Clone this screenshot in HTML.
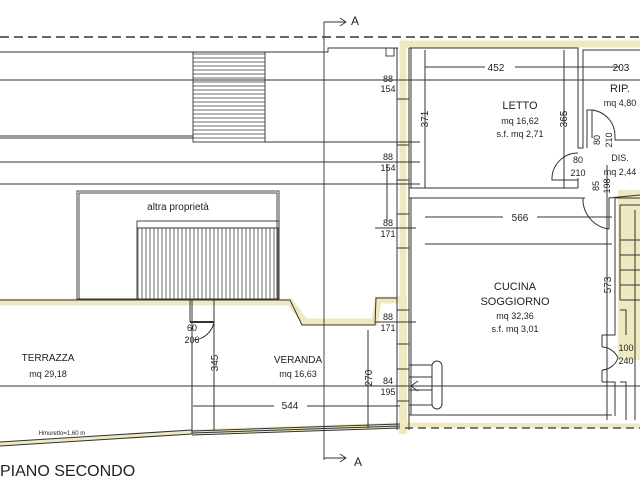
<!DOCTYPE html>
<html><head><meta charset="utf-8"><style>
html,body{margin:0;padding:0;background:#fff;}
svg{display:block;}
text{font-family:"Liberation Sans",sans-serif;fill:#222;}
</style></head><body>
<svg width="640" height="480" viewBox="0 0 640 480" xmlns="http://www.w3.org/2000/svg">
<defs>
<pattern id="hh" width="4" height="4" patternUnits="userSpaceOnUse"><line x1="0" y1="2" x2="4" y2="2" stroke="#444" stroke-width="0.8"/></pattern>
<pattern id="vh" width="4" height="4" patternUnits="userSpaceOnUse"><line x1="2" y1="0" x2="2" y2="4" stroke="#444" stroke-width="0.8"/></pattern>
</defs>
<rect width="640" height="480" fill="#fff"/>
<g fill="none" stroke="#efe9c2" stroke-linecap="square">
<polyline points="0,302 290,302 305,322 375,322 378,300 403,300 403,44 640,44" stroke-width="7"/>
<line x1="403" y1="300" x2="403" y2="430" stroke-width="8"/>
<polyline points="0,444 192,432 400,425 640,426" stroke-width="5"/>
<rect x="618" y="190" width="28" height="170" fill="#efe9c2" stroke="none"/>
</g>
<line x1="0" y1="37" x2="640" y2="37" stroke="#333" stroke-width="1.5" stroke-dasharray="9,5"/>
<line x1="405" y1="428" x2="640" y2="428" stroke="#333" stroke-width="1.3" stroke-dasharray="8,5"/>
<g stroke="#333" stroke-width="0.9" fill="none">
<line x1="0" y1="52" x2="328" y2="52"/>
<line x1="0" y1="80" x2="640" y2="80"/>
<line x1="0" y1="136" x2="193" y2="136"/><line x1="0" y1="138" x2="193" y2="138"/>
<line x1="265" y1="142" x2="420" y2="142"/>
<line x1="0" y1="162" x2="420" y2="162"/>
<line x1="0" y1="184" x2="420" y2="184"/>
<line x1="0" y1="386" x2="640" y2="386"/>
<polyline points="324,460 324,22 345,22"/>
<polyline points="340,18 346,22 340,26"/>
<polyline points="324,458 345,458"/>
<polyline points="340,454 346,458 340,462"/>
<polyline points="326,52 328,52 328,48 398,48"/>
<rect x="386" y="48" width="8" height="8"/>
<rect x="77" y="191" width="202" height="108"/><rect x="79" y="193" width="198" height="106"/>
<rect x="137" y="221" width="142" height="7"/>
</g>
<rect x="193" y="52" width="72" height="90" fill="url(#hh)" stroke="#333" stroke-width="0.9"/>
<rect x="137" y="228" width="142" height="71" fill="url(#vh)" stroke="#333" stroke-width="0.9"/>
<g stroke="#333" stroke-width="1" fill="none">
<polyline points="0,300 290,300 302,325 375,325 376,298 397,298"/>
<line x1="0" y1="442" x2="192" y2="430"/><line x1="0" y1="446" x2="192" y2="434"/>
<line x1="192" y1="300" x2="192" y2="434"/><line x1="190" y1="300" x2="190" y2="322"/>
<line x1="190" y1="322" x2="214" y2="322" stroke-width="2"/>
<path d="M214,322 A22,22 0 0 1 194,340"/>
<line x1="214" y1="300" x2="214" y2="430"/>
<line x1="192" y1="431" x2="400" y2="424"/><line x1="192" y1="433" x2="400" y2="426"/><line x1="192" y1="435" x2="400" y2="428"/>
<line x1="193" y1="406" x2="274" y2="406"/><line x1="307" y1="406" x2="400" y2="406"/>
<line x1="368" y1="330" x2="368" y2="428"/>
<line x1="397" y1="48" x2="397" y2="430"/>
<line x1="409" y1="48" x2="409" y2="430"/>
<rect x="397" y="99" width="12" height="46"/>
<rect x="397" y="180" width="12" height="34"/>
<rect x="397" y="248" width="12" height="62"/>
<rect x="397" y="310" width="12" height="34"/>
<rect x="397" y="369" width="12" height="32"/>
<line x1="372" y1="80" x2="415" y2="80"/><line x1="372" y1="162" x2="415" y2="162"/>
<line x1="375" y1="228" x2="416" y2="228"/><line x1="375" y1="322" x2="416" y2="322"/><line x1="375" y1="386" x2="420" y2="386"/>
<line x1="387" y1="164" x2="387" y2="222"/>
<polyline points="409,48 578,48 578,148 583,148 583,50 640,50"/>
<line x1="411" y1="48" x2="411" y2="188"/>
<line x1="425" y1="50" x2="425" y2="188"/>
<line x1="409" y1="188" x2="578" y2="188"/><line x1="409" y1="198" x2="585" y2="198"/>
<line x1="578" y1="178" x2="578" y2="188"/>
<line x1="564" y1="50" x2="564" y2="188"/>
<path d="M578,180 H552 A26,26 0 0 1 578,153"/>
<line x1="425" y1="67" x2="485" y2="67"/><line x1="515" y1="67" x2="620" y2="67"/>
<line x1="425" y1="217" x2="503" y2="217"/><line x1="537" y1="217" x2="612" y2="217"/>
<line x1="425" y1="244" x2="612" y2="244"/>
<polyline points="587,148 587,110 592,110 592,138"/>
<path d="M592,110 A26,26 0 0 1 615,136"/>
<polyline points="615,136 615,140 640,140"/>
<path d="M583,198 A30,30 0 0 0 609,229"/>
<polyline points="609,229 609,198 640,195"/>
<line x1="607" y1="165" x2="607" y2="420"/>
<polyline points="615,228 615,198 640,198"/>
<polyline points="620,300 620,205 640,205"/>
<polyline points="615,228 615,335 602,335"/>
<polyline points="620,310 626,310 626,335"/>
<path d="M602,335 v12 M602,370 v12 M602,347 A18,18 0 0 1 618,358 M602,370 A18,18 0 0 0 618,358"/>
<polyline points="602,382 615,382 615,416"/><polyline points="620,382 626,382 626,420"/>
<line x1="635" y1="210" x2="635" y2="420"/>
<line x1="620" y1="240" x2="640" y2="240"/><line x1="620" y1="255" x2="640" y2="255"/><line x1="620" y1="270" x2="640" y2="270"/><line x1="620" y1="285" x2="640" y2="285"/><line x1="620" y1="300" x2="640" y2="300"/>
<line x1="411" y1="198" x2="411" y2="415"/>
<line x1="409" y1="415" x2="612" y2="415"/>
<polyline points="409,365 432,365 432,405 409,405"/>
<line x1="409" y1="377" x2="432" y2="377"/><line x1="409" y1="390" x2="432" y2="390"/>
<polyline points="418,381 411,386 418,391"/>
<rect x="432" y="361" width="10" height="48" rx="5"/>
</g>
<g font-size="9" text-anchor="middle">
<text x="355" y="25" font-size="12">A</text>
<text x="358" y="466" font-size="12">A</text>
<text x="178" y="210" font-size="10">altra proprietà</text>
<text x="496" y="71" font-size="10">452</text>
<text x="621" y="71" font-size="10">203</text>
<text x="520" y="109" font-size="11">LETTO</text>
<text x="520" y="124">mq 16,62</text>
<text x="520" y="137">s.f. mq 2,71</text>
<text x="620" y="92" font-size="11">RIP.</text>
<text x="620" y="106">mq 4,80</text>
<text x="620" y="161">DIS.</text>
<text x="620" y="175">mq 2,44</text>
<text x="578" y="163">80</text><text x="578" y="176">210</text>
<text x="520" y="221" font-size="10">566</text>
<text x="515" y="290" font-size="11">CUCINA</text>
<text x="515" y="305" font-size="11">SOGGIORNO</text>
<text x="515" y="319">mq 32,36</text>
<text x="515" y="332">s.f. mq 3,01</text>
<text x="626" y="351">100</text><text x="626" y="364">240</text>
<text x="388" y="82">88</text><text x="388" y="92">154</text>
<text x="388" y="160">88</text><text x="388" y="171">154</text>
<text x="388" y="226">88</text><text x="388" y="237">171</text>
<text x="388" y="320">88</text><text x="388" y="331">171</text>
<text x="388" y="384">84</text><text x="388" y="395">195</text>
<text x="192" y="331">60</text><text x="192" y="343">206</text>
<text x="48" y="361" font-size="10">TERRAZZA</text>
<text x="48" y="377">mq 29,18</text>
<text x="298" y="363" font-size="10">VERANDA</text>
<text x="298" y="377">mq 16,63</text>
<text x="290" y="409" font-size="10">544</text>
<text x="62" y="435" font-size="6">Hmuretto=1,60 m</text>
</g>
<g font-size="9" text-anchor="middle">
<text transform="translate(428,119) rotate(-90)" font-size="10">371</text>
<text transform="translate(567,119) rotate(-90)" font-size="10">365</text>
<text transform="translate(218,363) rotate(-90)" font-size="10">345</text>
<text transform="translate(372,378) rotate(-90)" font-size="10">270</text>
<text transform="translate(611,285) rotate(-90)" font-size="10">573</text>
<text transform="translate(600,140) rotate(-90)">80</text><text transform="translate(612,140) rotate(-90)">210</text>
<text transform="translate(599,186) rotate(-90)">85</text><text transform="translate(610,186) rotate(-90)">198</text>
</g>
<text x="0" y="476" font-size="16" fill="#222">PIANO SECONDO</text>
</svg>
</body></html>
